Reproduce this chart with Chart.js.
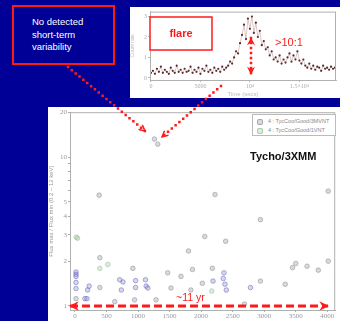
<!DOCTYPE html>
<html>
<head>
<meta charset="utf-8">
<script src="https://cdn.jsdelivr.net/npm/chart.js@4.4.1/dist/chart.umd.min.js"></script>
<style>
html, body { margin: 0; padding: 0; }
body { width: 340px; height: 321px; overflow: hidden; background: #000096; position: relative;
       font-family: "Liberation Sans", Arial, sans-serif; }
#inset { position: absolute; left: 130px; top: 7px; width: 210px; height: 91px; background: #fff; }
#main { position: absolute; left: 48px; top: 107px; width: 292px; height: 214px; background: #fff; }
#legend { position: absolute; left: 204px; top: 7px; width: 84px; height: 22px; border: 1px solid #bbb;
          background: #fff; font-size: 5.5px; color: #888; box-sizing: border-box; padding: 2px 0 0 4px; }
#legend div { height: 9px; line-height: 9px; white-space: nowrap; }
#legend span.sym { display: inline-block; width: 4px; height: 4px; border-radius: 2px; margin-right: 5px; vertical-align: middle; }
#overlay { position: absolute; left: 0; top: 0; }
.note { position: absolute; white-space: nowrap; }
#nodet { left: 32px; top: 16px; color: #fff; font-size: 9.5px; line-height: 12.5px; }
#flare { left: 150px; top: 27px; width: 62px; text-align: center; color: #ff1a1a; font-weight: bold; font-size: 11px; }
#ratio { left: 275px; top: 36px; color: #ff1a1a; font-size: 11px; }
#tycho { left: 250px; top: 150px; color: #111; font-weight: bold; font-size: 11px; }
#years { left: 176px; top: 291px; color: #ff1a1a; font-size: 10.5px; }
</style>
</head>
<body>
<div id="inset"><canvas id="lcChart" width="210" height="91"></canvas></div>
<div id="main"><canvas id="mainChart" width="292" height="222"></canvas><div id="legend"></div></div>

<svg id="overlay" width="340" height="321">
  <defs>
    <marker id="chev" viewBox="0 0 10 10" refX="9" refY="5" markerWidth="3" markerHeight="3" orient="auto-start-reverse">
      <path d="M1,1 L9,5 L1,9" fill="none" stroke="#ff1a1a" stroke-width="2"/>
    </marker>
    <marker id="tri" viewBox="0 0 10 10" refX="9" refY="5" markerWidth="3.2" markerHeight="3.2" orient="auto-start-reverse">
      <path d="M0,0 L10,5 L0,10 L3,5 z" fill="#ff1a1a"/>
    </marker>
  </defs>
  <rect x="13" y="6" width="101" height="58" fill="#000096" stroke="#ff1a1a" stroke-width="2"/>
  <rect x="150" y="17" width="62" height="33" fill="#fff" stroke="#ff1a1a" stroke-width="1.5"/>
  <line x1="68" y1="67" x2="145" y2="131" stroke="#ff1a1a" stroke-width="2.5" stroke-dasharray="0 5" stroke-linecap="square" marker-end="url(#chev)"/>
  <line x1="221" y1="86" x2="162" y2="137" stroke="#ff1a1a" stroke-width="2.5" stroke-dasharray="0 5" stroke-linecap="square" marker-end="url(#chev)"/>
  <line x1="251" y1="38" x2="251" y2="74" stroke="#ff1a1a" stroke-width="2.5" stroke-dasharray="0 5" stroke-linecap="square" marker-start="url(#tri)" marker-end="url(#tri)"/>
  <line x1="70" y1="306" x2="328" y2="306" stroke="#ff1a1a" stroke-width="3" stroke-dasharray="8 4" marker-start="url(#tri)" marker-end="url(#tri)"/>
</svg>

<div class="note" id="nodet">No detected<br>short-term<br>variability</div>
<div class="note" id="flare">flare</div>
<div class="note" id="ratio">&gt;10:1</div>
<div class="note" id="tycho">Tycho/3XMM</div>
<div class="note" id="years">~11 yr</div>

<script>
// light curve of the flare (count rate every 200 s)
const lcStep = 200;
const lcRate = [
  0.25, 0.35, 0.2, 0.45, 0.3, 0.55, 0.25, 0.4, 0.3, 0.2, 0.5, 0.35, 0.25, 0.6, 0.3, 0.4, 0.25, 0.45, 0.3,
  0.35, 0.55, 0.25, 0.4, 0.3, 0.5, 0.2, 0.45, 0.35, 0.6, 0.3, 0.4, 0.25, 0.5, 0.35, 0.45, 0.3, 0.55, 0.4,
  0.5, 0.6, 0.8, 0.7, 1.0, 1.3, 1.2, 1.7,
  2.1, 2.6, 1.9, 2.9, 2.4, 3.0, 2.2, 2.7,
  2.0, 2.3, 1.6, 1.8, 1.4, 1.5, 1.1, 1.3, 0.9,
  1.0, 0.8, 1.1, 0.7, 0.9, 0.75, 1.0, 1.2, 0.8, 1.1, 0.9, 1.3, 0.85, 0.7, 0.9,
  0.6, 0.5, 0.7, 0.45, 0.6, 0.4, 0.55, 0.5, 0.35, 0.6, 0.45, 0.5, 0.4, 0.55, 0.45, 0.5
];
const lcTicks = [0, 5000, 10000, 15000];
const lcTickLabels = ['0', '5000', '10\u2074', '1.5\u00d710\u2074'];
const lcRateTicks = [0, 1, 2, 3];

// flux ratio vs time range, Tycho / 3XMM
const seriesNames = ['4 : TycCoo/Good/3MVNT', '4 : TycCoo/Good/1VNT'];
const grayX = [1260, 1312, 383, 2220, 4015, 394, 394, 630, 918, 945, 1286, 1470, 1522, 1680, 1800, 1863, 1837,
               2020, 2058, 2178, 2389, 2688, 2940, 2940, 3334, 3449, 3501, 3680, 3858, 4016, 16];
const grayY = [13.2, 12.2, 5.55, 5.6, 5.9, 2.11, 1.33, 1.07, 1.79, 1.1, 1.1, 1.67, 1.32, 1.58, 2.34, 1.76, 1.28,
               1.42, 2.93, 1.79, 2.72, 1.03, 1.47, 3.8, 1.40, 1.81, 1.93, 1.85, 1.74, 2.0, 1.12];
const greenX = [20, 40, 394, 520, 2168];
const greenY = [2.9, 2.85, 1.79, 1.9, 1.26];
const blueX = [16, 16, 16, 16, 16, 157, 190, 200, 225, 709, 761, 735, 961, 961, 1118, 1129, 1155,
               2189, 2362, 2351, 2378, 2399, 2783];
const blueY = [1.69, 1.63, 1.58, 1.44, 1.31, 1.12, 1.12, 1.28, 1.36, 1.5, 1.45, 1.28, 1.48, 1.33, 1.5, 1.36, 1.32,
               1.47, 1.67, 1.53, 1.40, 1.28, 1.33];
const xTicks = [0, 500, 1000, 1500, 2000, 2500, 3000, 3500, 4000];
const yTicks = [1, 2, 3, 4, 5, 6, 7, 8, 9, 10, 20];
const yLabels = [1, 2, 3, 4, 5, 10, 20];

function pts(xs, ys) {
    return xs.map((x, i) => ({ x: x, y: ys[i] }));
}

const tickFont = { family: 'Liberation Serif', size: 7 };

// draws the grey box round the plot area
const frame = {
    id: 'frame',
    afterDraw(chart) {
        const a = chart.chartArea, ctx = chart.ctx;
        ctx.save();
        ctx.strokeStyle = '#b0b0b0';
        ctx.lineWidth = 1;
        ctx.strokeRect(a.left + 0.5, a.top + 0.5, a.right - a.left - 1, a.bottom - a.top);
        ctx.restore();
    }
};

new Chart(document.getElementById('lcChart'), {
    type: 'line',
    data: {
        labels: lcRate.map((v, i) => i * lcStep),
        datasets: [{
            data: lcRate.map((v, i) => ({ x: i * lcStep, y: v })),
            borderColor: 'rgba(170,120,120,0.6)',
            borderWidth: 0.7,
            pointRadius: 1.1,
            pointBackgroundColor: '#5a2a2a',
            pointBorderWidth: 0,
            tension: 0
        }]
    },
    options: {
        responsive: false,
        animation: false,
        layout: { padding: { top: 3, right: 0, left: 0, bottom: 0 } },
        plugins: { legend: { display: false }, tooltip: { enabled: false } },
        scales: {
            x: {
                type: 'linear', min: -99, max: 18700,
                afterBuildTicks: s => { s.ticks = lcTicks.map(v => ({ value: v })); },
                afterFit: s => { s.height = 18; },
                ticks: { font: { family: 'Liberation Serif', size: 6 }, color: '#aaa', padding: 1, maxRotation: 0,
                         callback: v => lcTickLabels[lcTicks.indexOf(v)] },
                grid: { drawOnChartArea: false, tickLength: 2, color: '#bbb' },
                border: { color: '#bbb' },
                title: { display: true, text: 'Time (secs)', font: { family: 'Liberation Sans', size: 6 }, color: '#bbb', padding: 0 }
            },
            y: {
                min: -0.1, max: 3.24,
                afterBuildTicks: s => { s.ticks = lcRateTicks.map(v => ({ value: v })); },
                afterFit: s => { s.width = 20; },
                ticks: { font: { family: 'Liberation Serif', size: 6 }, color: '#aaa', padding: 1 },
                grid: { drawOnChartArea: false, tickLength: 2, color: '#bbb' },
                border: { color: '#bbb' },
                title: { display: true, text: 'Count rate', font: { family: 'Liberation Sans', size: 5 }, color: '#bbb', padding: 0 }
            }
        }
    },
    plugins: [frame]
});

const mainChart = new Chart(document.getElementById('mainChart'), {
    type: 'scatter',
    data: {
        datasets: [
            { label: seriesNames[0], data: pts(grayX, grayY), backgroundColor: 'rgba(150,150,160,0.35)',
              borderColor: 'rgba(120,120,130,0.55)', borderWidth: 0.8, pointRadius: 2.3 },
            { label: seriesNames[1], data: pts(greenX, greenY), backgroundColor: 'rgba(160,200,160,0.35)',
              borderColor: 'rgba(130,170,130,0.55)', borderWidth: 0.8, pointRadius: 2.3 },
            { label: '', data: pts(blueX, blueY), backgroundColor: 'rgba(140,140,210,0.35)',
              borderColor: 'rgba(90,90,180,0.6)', borderWidth: 0.8, pointRadius: 2.3 }
        ]
    },
    options: {
        responsive: false,
        animation: false,
        layout: { padding: { top: 4, right: 3, left: 0, bottom: 0 } },
        plugins: { legend: { display: false }, tooltip: { enabled: false } },
        scales: {
            x: {
                type: 'linear', min: -79, max: 4126,
                afterBuildTicks: s => { s.ticks = xTicks.map(v => ({ value: v })); },
                afterFit: s => { s.height = 19; },
                ticks: { font: tickFont, color: '#999', padding: 0, maxRotation: 0, callback: v => String(v) },
                grid: { drawOnChartArea: false, tickLength: 2, color: '#aaa' },
                border: { color: '#aaa' },
                title: { display: true, text: 'Time range of observations for each source (days)',
                         font: { family: 'Liberation Serif', size: 7 }, color: '#999', padding: 0 }
            },
            y: {
                type: 'logarithmic', min: 0.94, max: 20,
                afterBuildTicks: s => { s.ticks = yTicks.map(v => ({ value: v })); },
                afterFit: s => { s.width = 22; },
                ticks: { font: tickFont, color: '#999', padding: 1,
                         callback: v => yLabels.includes(v) ? String(v) : '' },
                grid: { drawOnChartArea: false, tickLength: 2, color: '#aaa' },
                border: { color: '#aaa' },
                title: { display: true, text: 'Flux max / Flux min (0.2 \u2013 12 keV)',
                         font: { family: 'Liberation Sans', size: 6 }, color: '#999', padding: 0 }
            }
        }
    },
    plugins: [frame]
});

// small legend box in the top right corner
const legendDiv = document.getElementById('legend');
mainChart.data.datasets.slice(0, 2).forEach(ds => {
    const row = document.createElement('div');
    row.innerHTML = '<span class="sym" style="background:' + ds.backgroundColor + ';border:0.5px solid ' +
        ds.borderColor + '"></span>' + ds.label;
    legendDiv.appendChild(row);
});
</script>
</body>
</html>
